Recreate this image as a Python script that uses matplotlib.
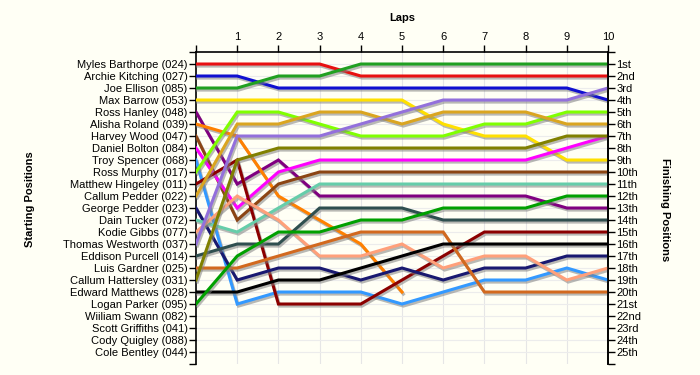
import matplotlib
matplotlib.use("Agg")
import matplotlib.pyplot as plt
import matplotlib.patheffects as pe

laps = list(range(11))

drivers = [
    "Myles Barthorpe (024)", "Archie Kitching (027)", "Joe Ellison (085)",
    "Max Barrow (053)", "Ross Hanley (048)", "Alisha Roland (039)",
    "Harvey Wood (047)", "Daniel Bolton (084)", "Troy Spencer (068)",
    "Ross Murphy (017)", "Matthew Hingeley (011)", "Callum Pedder (022)",
    "George Pedder (023)", "Dain Tucker (072)", "Kodie Gibbs (077)",
    "Thomas Westworth (037)", "Eddison Purcell (014)", "Luis Gardner (025)",
    "Callum Hattersley (031)", "Edward Matthews (028)", "Logan Parker (095)",
    "Wiiliam Swann (082)", "Scott Griffiths (041)", "Cody Quigley (088)",
    "Cole Bentley (044)",
]

colors = [
    "#e81010", "#1010d0", "#20a020", "#ffe000", "#800080", "#ff8000",
    "#8b4513", "#ff00ff", "#3399ff", "#80ff00", "#8b0000", "#daa520",
    "#191970", "#66cdaa", "#ffa07a", "#9370db", "#2f4f4f", "#d2691e",
    "#808000", "#000000", "#00a000",
]

# position of each driver at laps 0..10 (None = retired)
positions = [
    [1, 1, 1, 1, 2, 2, 2, 2, 2, 2, 2],
    [2, 2, 3, 3, 3, 3, 3, 3, 3, 3, 4],
    [3, 3, 2, 2, 1, 1, 1, 1, 1, 1, 1],
    [4, 4, 4, 4, 4, 4, 6, 7, 7, 9, 9],
    [5, 11, 9, 12, 12, 12, 12, 12, 12, 13, 13],
    [6, 7, 12, 14, 16, 20],
    [7, 14, 11, 10, 10, 10, 10, 10, 10, 10, 10],
    [8, 13, 10, 9, 9, 9, 9, 9, 9, 8, 7],
    [9, 21, 20, 20, 20, 21, 20, 19, 19, 18, 19],
    [10, 5, 5, 6, 7, 7, 7, 6, 6, 5, 5],
    [11, 9, 21, 21, 21, 19, 17, 15, 15, 15, 15],
    [12, 6, 6, 5, 5, 6, 5, 5, 5, 6, 6],
    [13, 19, 18, 18, 19, 18, 19, 18, 18, 17, 17],
    [14, 15, 13, 11, 11, 11, 11, 11, 11, 11, 11],
    [15, 12, 14, 17, 17, 16, 18, 17, 17, 19, 18],
    [16, 7, 7, 7, 6, 5, 4, 4, 4, 4, 3],
    [17, 16, 16, 13, 13, 13, 14, 14, 14, 14, 14],
    [18, 18, 17, 16, 15, 15, 15, 20, 20, 20, 20],
    [19, 9, 8, 8, 8, 8, 8, 8, 8, 7, 7],
    [20, 20, 19, 19, 18, 17, 16, 16, 16, 16, 16],
    [21, 17, 15, 15, 14, 14, 13, 13, 13, 12, 12],
]


def ordinal(n):
    if 10 <= n % 100 <= 20:
        suffix = "th"
    else:
        suffix = {1: "st", 2: "nd", 3: "rd"}.get(n % 10, "th")
    return f"{n}{suffix}"


plt.rcParams["font.family"] = ["Liberation Sans", "DejaVu Sans"]
bg = "#fffff5"

fig = plt.figure(figsize=(7, 3.75), dpi=100, facecolor=bg)
ax = fig.add_axes([0.28, 0.0293, 0.5886, 0.832])
ax.set_facecolor(bg)

shadow = [pe.SimpleLineShadow(offset=(1, -1.5), shadow_color="#808080", alpha=0.55),
          pe.Normal()]

for pos, col in zip(positions, colors):
    ax.plot(laps[:len(pos)], pos, color=col, lw=2.2, solid_joinstyle="miter",
            path_effects=shadow, zorder=3)

n = len(drivers)
ax.set_xlim(0, 10)
ax.set_ylim(n + 1, 0)

# grid
for x in laps[1:]:
    ax.axvline(x, color="#e6e6e6", lw=0.8, zorder=1)
for y in range(1, n + 1):
    ax.axhline(y, color="#ececec", lw=0.8, zorder=1)

ax.spines["bottom"].set_visible(False)
for s in ["top", "left", "right"]:
    ax.spines[s].set_linewidth(1.2)

ax.xaxis.set_ticks_position("top")
ax.set_xticks(laps)
ax.set_xticklabels([""] + [str(l) for l in laps[1:]], fontsize=8)
ax.tick_params(axis="x", length=5, width=1, pad=2)

ax.set_yticks(range(0, n + 2))
ax.set_yticklabels([""] + drivers + [""], fontsize=8)
ax.tick_params(axis="y", length=5, width=1, pad=1)

ax2 = ax.twinx()
ax2.set_ylim(n + 1, 0)
ax2.set_yticks(range(0, n + 2))
ax2.set_yticklabels([""] + [ordinal(i) for i in range(1, n + 1)] + [""], fontsize=8)
ax2.tick_params(axis="y", length=5, width=1, pad=1)
for s in ["top", "bottom", "left"]:
    ax2.spines[s].set_visible(False)
ax2.spines["right"].set_linewidth(1.2)

fig.text(0.574, 0.952, "Laps", fontsize=8, fontweight="bold", ha="center", va="center")
fig.text(0.043, 0.47, "Starting Positions", fontsize=8, fontweight="bold",
         rotation=90, ha="center", va="center")
fig.text(0.95, 0.44, "Finishing Positions", fontsize=8, fontweight="bold",
         rotation=-90, ha="center", va="center")

fig.savefig("out.png", dpi=100, facecolor=bg)
